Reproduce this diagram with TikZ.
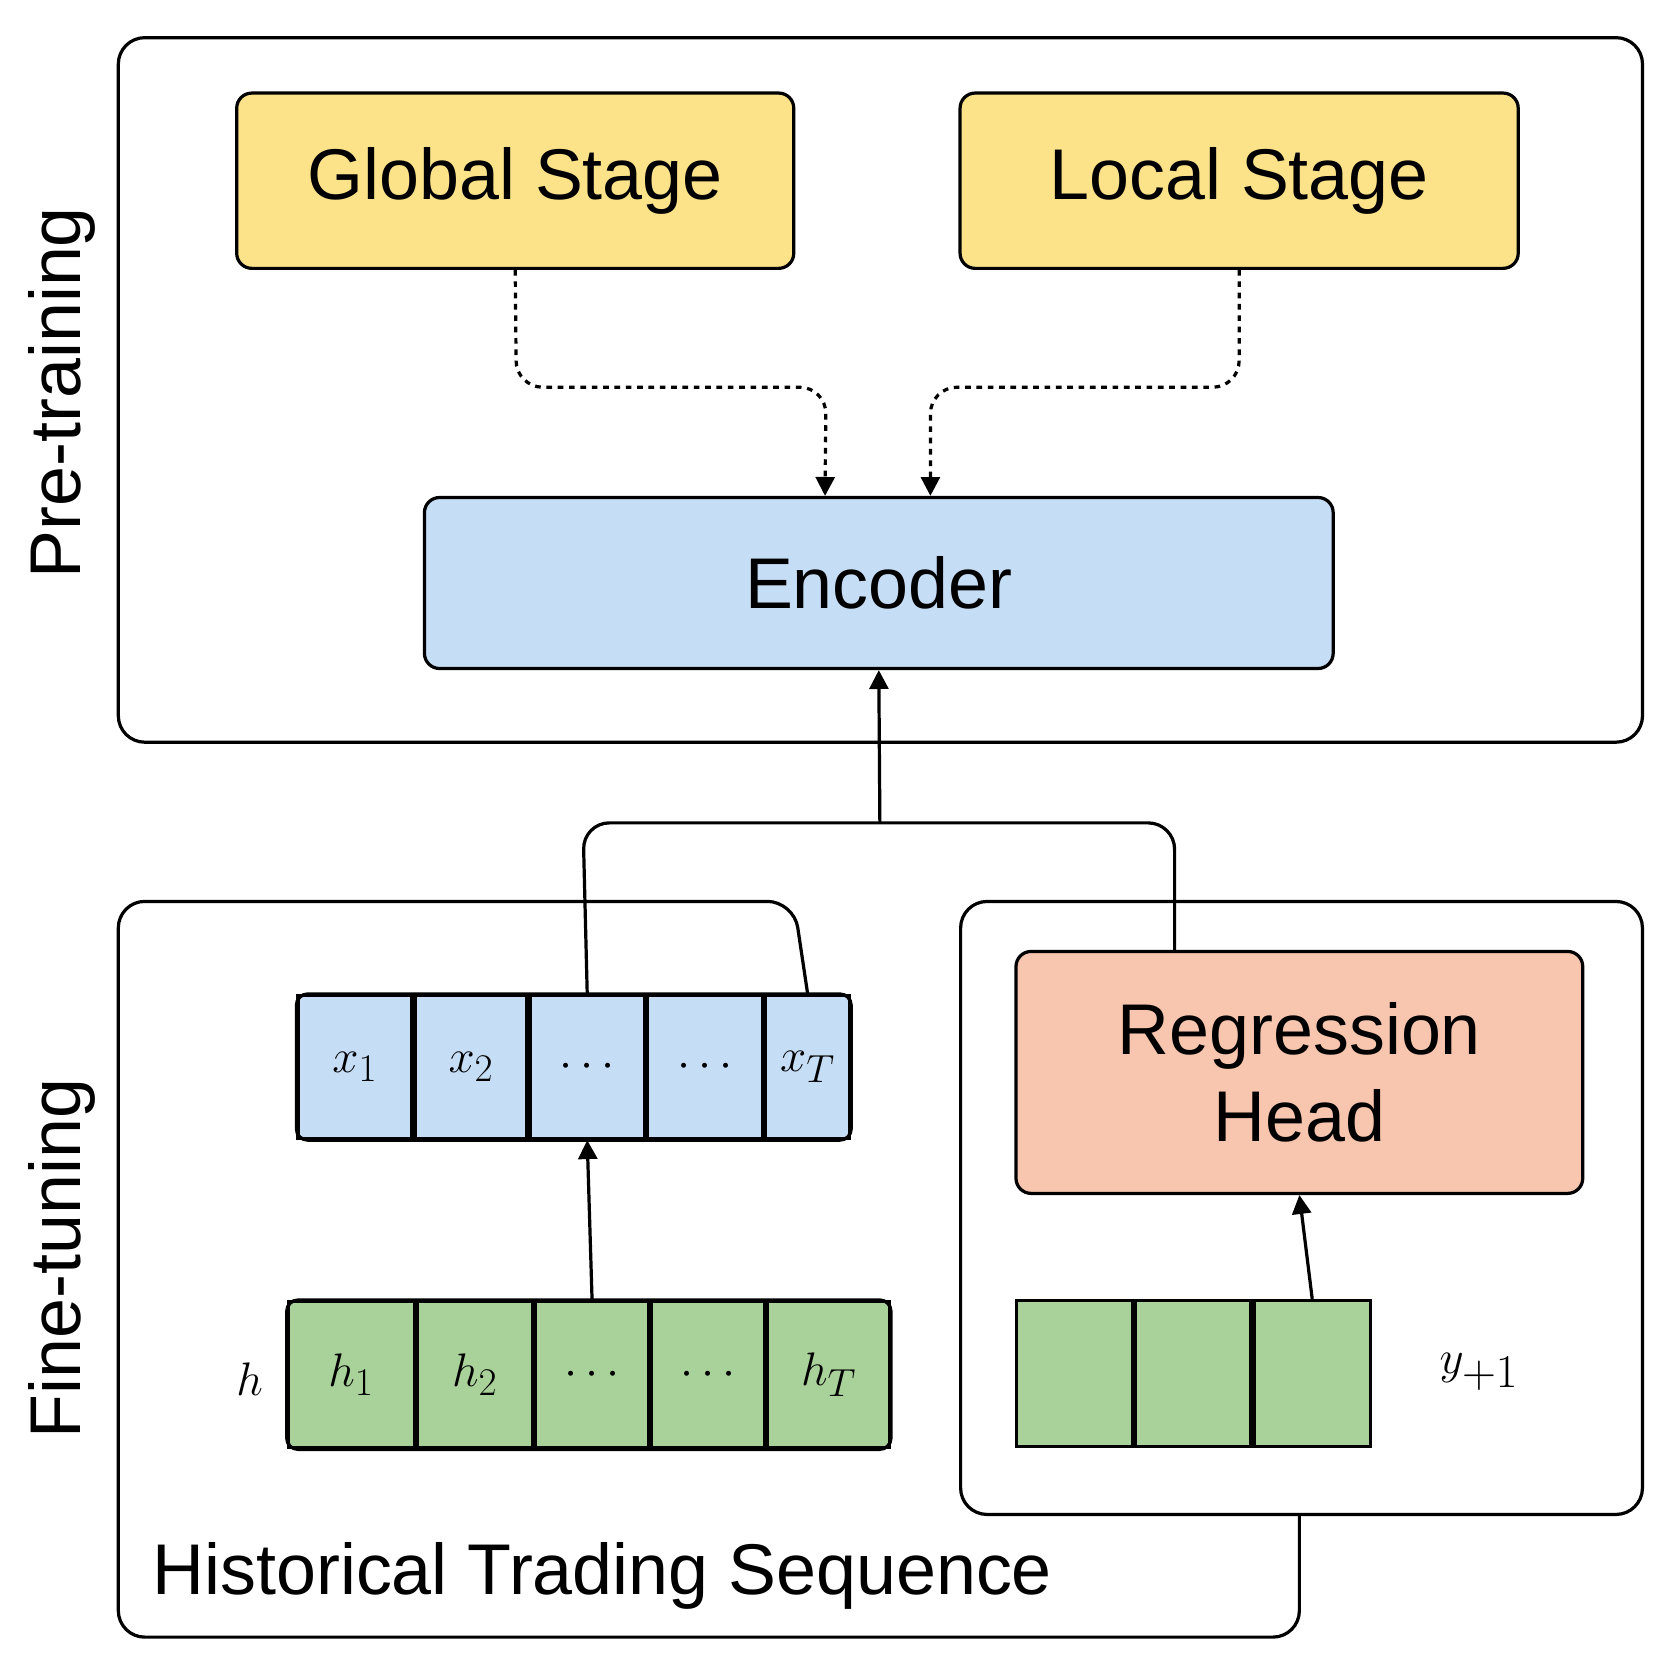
\documentclass[tikz,border=0pt]{standalone}
\usepackage{fontspec}
\setmainfont{Liberation Sans}
\usetikzlibrary{arrows.meta}
\definecolor{ylw}{HTML}{FCE38A}
\definecolor{blu}{HTML}{C6DDF6}
\definecolor{sal}{HTML}{F8C6AE}
\definecolor{grn}{HTML}{A9D29A}
\tikzset{
  x=0.02cm,y=-0.02cm,
  every path/.style={line width=1.7pt},
  box/.style={draw,rounded corners=8pt,align=center,font=\fontsize{38}{46}\selectfont,inner sep=0pt},
  cell/.style={draw,minimum height=2.72cm,inner sep=0pt,font=\fontsize{30}{34}\selectfont},
  arr/.style={-{Triangle[length=10pt,width=10pt]}},
  lbl/.style={font=\fontsize{38}{46}\selectfont}
}
\begin{document}
\begin{tikzpicture}
\useasboundingbox (0,0) rectangle (1560,1549);
% pre-training frame
\draw[rounded corners=14pt] (110,35) rectangle (1527,690);
\node[lbl,rotate=90] (pt) at (58,365) {Pre-training};
\node[box,fill=ylw,minimum width=10.36cm,minimum height=3.26cm] (gs) at (479,168) {Global Stage};
\node[box,fill=ylw,minimum width=10.38cm,minimum height=3.26cm] (ls) at (1152,168) {Local Stage};
\node[box,fill=blu,minimum width=16.9cm,minimum height=3.18cm] (enc) at (817,542) {Encoder};
\draw[dashed,arr,rounded corners=14pt] (gs.south) -- (480,360) -- (768,360) -- ([xshift=-1.0cm]enc.north);
\draw[dashed,arr,rounded corners=14pt] (ls.south) -- (1152,360) -- (865,360) -- ([xshift=0.96cm]enc.north);
% fine-tuning frame
\node[lbl,rotate=90] (ft) at (58,1170) {Fine-tuning};
\node[draw,rounded corners=14pt,fill=white,minimum width=12.68cm,minimum height=11.4cm,inner sep=0pt] (rf) at (1210,1123) {};
% x cells
\node[cell,fill=blu,minimum width=2.12cm,minimum height=2.66cm] (x1) at (330,992) {$x_1$};
\node[cell,fill=blu,minimum width=2.08cm,minimum height=2.66cm,anchor=west] (x2) at (x1.east) {$x_2$};
\node[cell,fill=blu,minimum width=2.12cm,minimum height=2.66cm,anchor=west] (x3) at (x2.east) {$\cdots$};
\node[cell,fill=blu,minimum width=2.14cm,minimum height=2.66cm,anchor=west] (x4) at (x3.east) {$\cdots$};
\node[cell,fill=blu,minimum width=1.56cm,minimum height=2.66cm,anchor=west] (x5) at (x4.east) {$x_T$};
\draw[rounded corners=6pt] (x1.north west) rectangle (x5.south east);
% h cells
\node[cell,fill=grn,minimum width=2.34cm] (h1) at (326.5,1278) {$h_1$};
\node[cell,fill=grn,minimum width=2.14cm,anchor=west] (h2) at (h1.east) {$h_2$};
\node[cell,fill=grn,minimum width=2.1cm,anchor=west] (h3) at (h2.east) {$\cdots$};
\node[cell,fill=grn,minimum width=2.1cm,anchor=west] (h4) at (h3.east) {$\cdots$};
\node[cell,fill=grn,minimum width=2.26cm,anchor=west] (h5) at (h4.east) {$h_T$};
\draw[rounded corners=6pt] (h1.north west) rectangle (h5.south east);
\node[font=\fontsize{34}{40}\selectfont] (hl) at (232,1282) {$h$};
\draw[arr] (h3.north) -- (x3.south);
% regression
\node[box,fill=sal,minimum width=10.54cm,minimum height=4.5cm] (rh) at (1208,997) {Regression\\Head};
\node[cell,fill=grn,minimum width=2.16cm] (y1) at (999,1277) {};
\node[cell,fill=grn,minimum width=2.14cm,anchor=west] (y2) at (y1.east) {};
\node[cell,fill=grn,minimum width=2.16cm,anchor=west] (y3) at (y2.east) {};
\node[font=\fontsize{34}{40}\selectfont] (yl) at (1375,1275) {$y_{+1}$};
\draw[arr] (y3.north) -- (rh.south);
% fine-tuning outline (partly hidden)
\draw[rounded corners=14pt] (x5.north) -- (738,838) -- (110,838) -- (110,1522) -- (1208,1522) -- (1208,1408);
\node[lbl] (hts) at (560,1465) {Historical Trading Sequence};
% join to encoder
\coordinate (jn) at (818,765);
\draw[rounded corners=14pt] (x3.north) -- (542,765) -- (1092,765) -- (1092,885);
\draw[arr] (jn) -- (enc.south);
\end{tikzpicture}
\end{document}
